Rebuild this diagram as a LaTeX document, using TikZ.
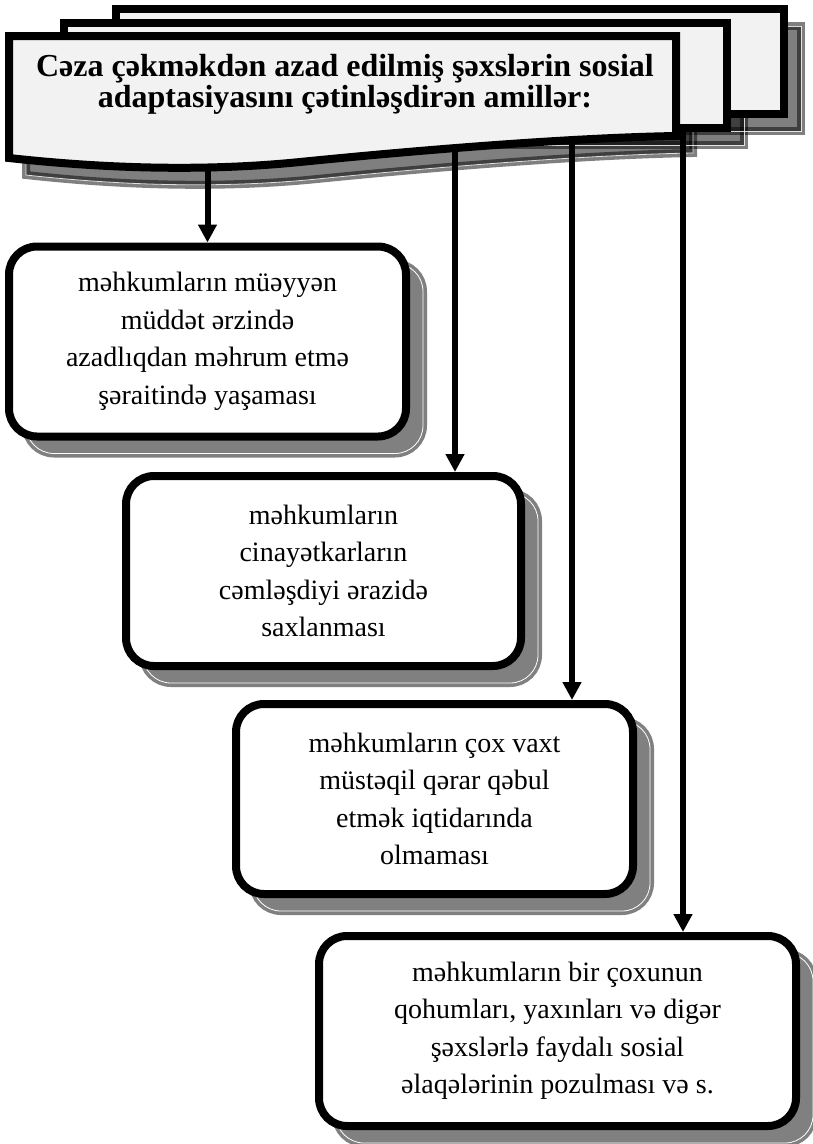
\documentclass[tikz,border=0pt]{standalone}
\usepackage{fontspec}
\setmainfont{Liberation Serif}
\usetikzlibrary{arrows.meta,shadows}
\definecolor{sheetgray}{HTML}{F2F2F2}
\definecolor{shadegray}{HTML}{808080}
\newcommand{\backsheet}{(115.5,9) rectangle (784,114)}
\newcommand{\midsheet}{(64,22.5) rectangle (727,128)}
\newcommand{\frontsheet}{(9,36) -- (676,36) -- (676,136) .. controls (560,138) and (400,152) .. (300,162) .. controls (200,172) and (100,168) .. (9,158) -- cycle}
\begin{document}
\begin{tikzpicture}[x=1pt,y=-1pt,
    factor/.style={draw=black,line width=8pt,fill=white,rounded corners=28pt,
      minimum height=190pt,align=center,inner sep=0pt,
      font=\fontsize{28}{37.5}\selectfont,
      drop shadow={shadow xshift=17pt,shadow yshift=-17pt,opacity=1,fill=shadegray,
        draw=shadegray,line width=3.6pt,double=white,double distance=0.8pt}},
    sheet/.style={draw=black,line width=8pt,fill=sheetgray},
    sheetshade/.style={fill=black,draw=black,line width=8pt,opacity=0.5},
    shadeline/.style={draw=white,line width=0.8pt,opacity=0.8},
    arr/.style={line width=6pt,-{Triangle[width=18pt,length=18pt]}}]
  \useasboundingbox (0,0) rectangle (813,1144);
  \node[factor,minimum width=397pt] (f1) at (207.5,341.5) {məhkumların müəyyən\\müddət ərzində\\azadlıqdan məhrum etmə\\şəraitində yaşaması};
  \node[factor,minimum width=395pt] (f2) at (323.5,571) {məhkumların\\cinayətkarların\\cəmləşdiyi ərazidə\\saxlanması};
  \node[factor,minimum width=397pt] (f3) at (434.5,799) {məhkumların çox vaxt\\müstəqil qərar qəbul\\etmək iqtidarında\\olmaması};
  \node[factor,minimum width=477pt] (f4) at (557.5,1031) {məhkumların bir çoxunun\\qohumları, yaxınları və digər\\şəxslərlə faydalı sosial\\əlaqələrinin pozulması və s.};
  \filldraw[sheetshade,shift={(17,17)}] \backsheet;
  \filldraw[sheetshade,shift={(17,17)}] \midsheet;
  \filldraw[sheetshade,shift={(17,17)}] \frontsheet;
  \draw[shadeline,shift={(17,17)}] \backsheet;
  \draw[shadeline,shift={(17,17)}] \midsheet;
  \draw[shadeline,shift={(17,17)}] \frontsheet;
  \coordinate (a1) at (207.5,150);
  \coordinate (a2) at (455,150);
  \coordinate (a3) at (572,135);
  \coordinate (a4) at (683,120);
  \draw[arr] (a1) -- (a1 |- f1.north);
  \draw[arr] (a2) -- (a2 |- f2.north);
  \draw[arr] (a3) -- (a3 |- f3.north);
  \draw[arr] (a4) -- (a4 |- f4.north);
  \filldraw[sheet] \backsheet;
  \filldraw[sheet] \midsheet;
  \filldraw[sheet] \frontsheet;
  \node[align=center,anchor=base,font=\fontsize{32}{31}\selectfont\bfseries] (title) at (345,107) {Cəza çəkməkdən azad edilmiş şəxslərin sosial\\adaptasiyasını çətinləşdirən amillər:};
\end{tikzpicture}
\end{document}
